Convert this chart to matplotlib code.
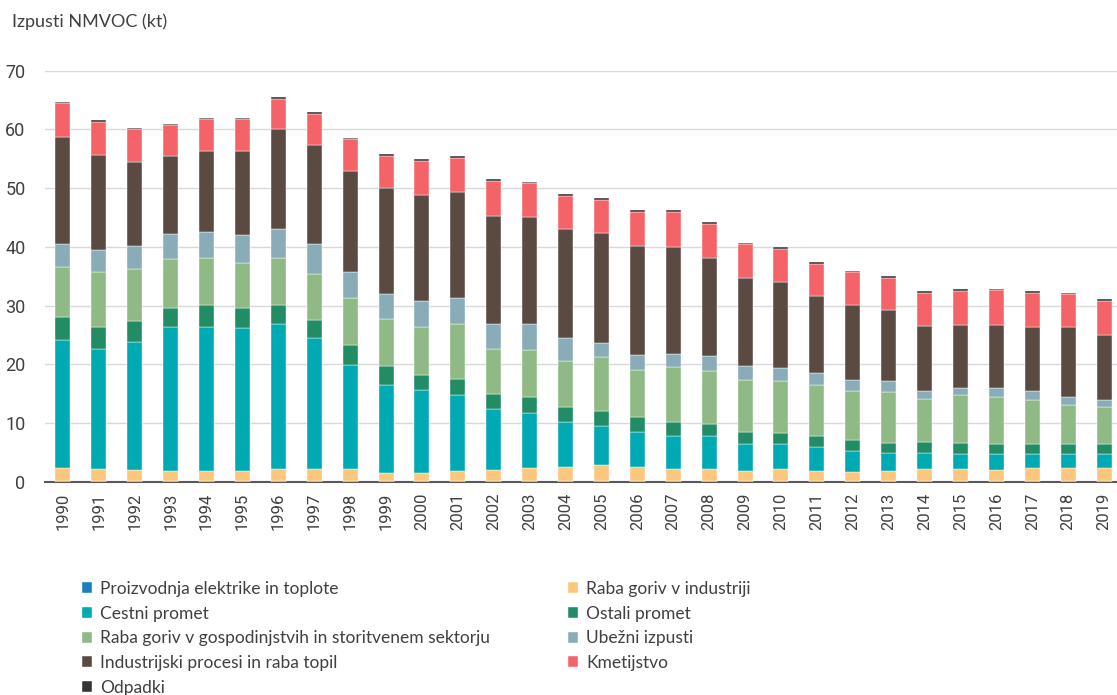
import matplotlib
matplotlib.use("Agg")
import matplotlib.pyplot as plt
from matplotlib import font_manager as fm
import numpy as np

plt.rcParams['font.family'] = ['Roboto', 'DejaVu Sans']
NARROW = ['Lato', 'Roboto', 'DejaVu Sans']

years = [str(y) for y in range(1990, 2020)]

elektrika = [0.05]*19 + [0.2, 0.2, 0.2, 0.2] + [0.05]*5 + [0.2, 0.2]
industrija = [2.3, 2.15, 1.95, 1.85, 1.85, 1.85, 2.05, 2.05, 2.05, 1.35,
              1.35, 1.85, 1.95, 2.25, 2.5, 2.75, 2.5, 2.1, 2.05, 1.7,
              2.0, 1.7, 1.4, 1.75, 2.15, 2.15, 1.95, 2.25, 2.1, 2.1]
cestni = [21.8, 20.4, 21.8, 24.5, 24.5, 24.3, 24.8, 22.3, 17.7, 15.1,
          14.2, 12.9, 10.4, 9.45, 7.65, 6.7, 5.95, 5.65, 5.6, 4.6,
          4.2, 4.0, 3.6, 3.1, 2.7, 2.6, 2.7, 2.5, 2.4, 2.4]
ostali = [3.9, 3.8, 3.5, 3.1, 3.7, 3.3, 3.2, 3.1, 3.4, 3.2,
          2.6, 2.7, 2.6, 2.75, 2.5, 2.6, 2.5, 2.3, 2.2, 2.0,
          1.95, 1.8, 1.9, 1.7, 1.9, 1.8, 1.7, 1.7, 1.8, 1.7]
gospodinjstva = [8.5, 9.3, 8.9, 8.4, 8.0, 7.8, 8.0, 7.9, 8.1, 8.0,
                 8.1, 9.4, 7.6, 8.0, 7.8, 9.1, 8.1, 9.4, 9.0, 8.9,
                 8.75, 8.8, 8.3, 8.7, 7.3, 8.1, 8.0, 7.5, 6.6, 6.3]
ubezni = [4.0, 3.7, 4.0, 4.3, 4.5, 4.8, 5.0, 5.1, 4.4, 4.3,
          4.5, 4.4, 4.3, 4.3, 3.9, 2.5, 2.5, 2.2, 2.5, 2.3,
          2.2, 2.0, 2.0, 1.8, 1.4, 1.3, 1.5, 1.4, 1.3, 1.3]
procesi = [18.2, 16.3, 14.2, 13.3, 13.8, 14.3, 16.9, 16.8, 17.3, 18.0,
           18.1, 18.1, 18.4, 18.3, 18.6, 18.6, 18.6, 18.2, 16.7, 15.0,
           14.7, 13.1, 12.7, 12.2, 11.1, 10.7, 10.85, 11.0, 11.9, 11.0]
kmetijstvo = [5.75, 5.6, 5.6, 5.2, 5.3, 5.3, 5.2, 5.3, 5.3, 5.4,
              5.7, 5.8, 5.9, 5.7, 5.7, 5.7, 5.7, 6.0, 5.8, 5.7,
              5.7, 5.5, 5.6, 5.45, 5.6, 5.8, 5.85, 5.8, 5.7, 5.8]
odpadki = [0.25, 0.25, 0.25, 0.2, 0.2, 0.2, 0.3, 0.3, 0.25, 0.4,
           0.4, 0.3, 0.4, 0.2, 0.25, 0.3, 0.3, 0.3, 0.3, 0.3,
           0.2, 0.3, 0.2, 0.25, 0.2, 0.3, 0.2, 0.2, 0.2, 0.3]

series = [
    ("Proizvodnja elektrike in toplote", elektrika, "#1a7fc1"),
    ("Raba goriv v industriji", industrija, "#fdc67d"),
    ("Cestni promet", cestni, "#00aab3"),
    ("Ostali promet", ostali, "#228c64"),
    ("Raba goriv v gospodinjstvih in storitvenem sektorju", gospodinjstva, "#8fba86"),
    ("Ubežni izpusti", ubezni, "#8aacb8"),
    ("Industrijski procesi in raba topil", procesi, "#5b4a42"),
    ("Kmetijstvo", kmetijstvo, "#f36368"),
    ("Odpadki", odpadki, "#333333"),
]

W, H = 1117, 695
fig = plt.figure(figsize=(W/100, H/100), dpi=100)
ax = fig.add_axes([45/W, 1-481.7/H, 1077/W, (481.7-70.7)/H])

x = np.arange(len(years))
bottom = np.zeros(len(years))
handles = []
for name, vals, col in series:
    v = np.array(vals)
    b = ax.bar(x, v, 0.42, bottom=bottom, color=col, label=name, zorder=3,
               edgecolor='white', linewidth=0.3)
    handles.append(b)
    bottom += v

ax.set_xlim(-0.5, 29.5)
ax.set_ylim(0, 70)
ax.set_yticks(range(0, 71, 10))
ax.yaxis.grid(True, color='#d9d9d9', linewidth=1.0, zorder=0)
ax.set_axisbelow(True)
for s in ['left', 'right', 'top']:
    ax.spines[s].set_visible(False)
ax.spines['bottom'].set_color('#595959')
ax.spines['bottom'].set_linewidth(1.5)
ax.tick_params(axis='both', length=0, colors='#404040')
ax.set_xticks(x)
ax.set_xticklabels(years, rotation=90, fontsize=12)
ax.tick_params(axis='x', pad=8)
for lab in ax.get_yticklabels():
    lab.set_fontsize(13)
ax.tick_params(axis='y', pad=14)

fig.text(12/W, 1-22/H, "Izpusti NMVOC (kt)", family=NARROW, fontsize=13, color='#404040',
         va='center', ha='left')

col1 = [handles[i] for i in (0, 2, 4, 6, 8)]
lab1 = [series[i][0] for i in (0, 2, 4, 6, 8)]
col2 = [handles[i] for i in (1, 3, 5, 7)]
lab2 = [series[i][0] for i in (1, 3, 5, 7)]
kw = dict(frameon=False, prop=fm.FontProperties(family=NARROW, size=12.5),
          handlelength=0.6, handleheight=0.6,
          handletextpad=0.45, labelspacing=0.5, borderaxespad=0, borderpad=0,
          labelcolor='#404040')
l1 = fig.legend(col1, lab1, loc='upper left', bbox_to_anchor=(82/W, 1-581/H), **kw)
l2 = fig.legend(col2, lab2, loc='upper left', bbox_to_anchor=(568/W, 1-581/H), **kw)

fig.savefig("out.png", dpi=100)
